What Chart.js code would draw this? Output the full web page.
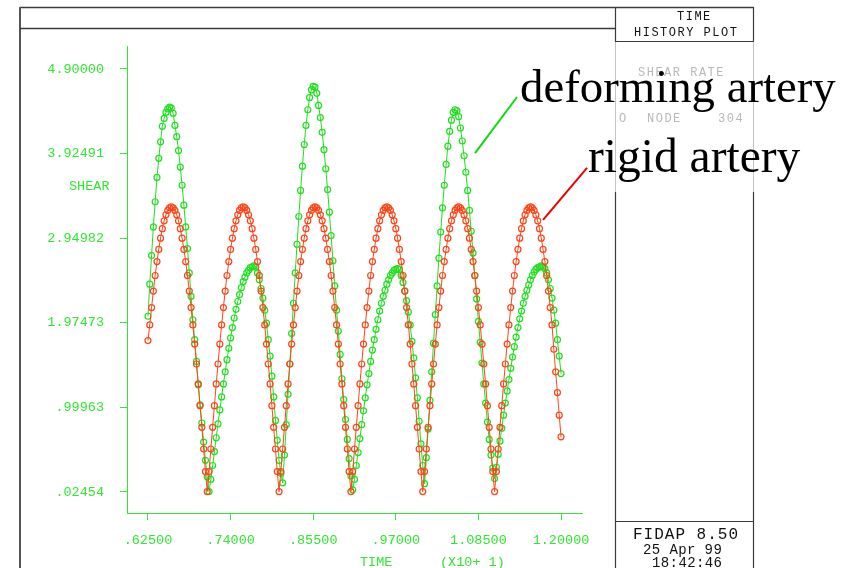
<!DOCTYPE html>
<html>
<head>
<meta charset="utf-8">
<script src="https://cdn.jsdelivr.net/npm/chart.js@4.4.1/dist/chart.umd.min.js"></script>
<style>
  html, body { margin: 0; padding: 0; background: #fff; }
  #wrap { position: relative; width: 855px; height: 568px; overflow: hidden; background: #fff; }
  #wrap canvas { position: absolute; left: 0; top: 0; }
  .mono { position: absolute; white-space: nowrap; font-family: "Liberation Mono", "DejaVu Sans Mono", monospace; line-height: 1; }
  .note { position: absolute; white-space: nowrap; font-family: "Liberation Serif", "DejaVu Serif", serif; line-height: 1; color: #000; }
</style>
</head>
<body>
<div id="wrap">
  <canvas id="chart" width="855" height="568"></canvas>

  <!-- axis captions -->
  <div class="mono" style="left:69px; top:180px; font-size:13.5px; color:#2fe82f;">SHEAR</div>
  <div class="mono" style="left:360px; top:556px; font-size:13.5px; color:#2fe82f;">TIME</div>
  <div class="mono" style="left:440px; top:556px; font-size:13.5px; color:#2fe82f;">(X10+ 1)</div>

  <!-- right panel -->
  <div class="mono" style="left:677px; top:11px; font-size:12px; letter-spacing:1.5px; color:#111;">TIME</div>
  <div class="mono" style="left:634px; top:27px; font-size:12px; letter-spacing:1.5px; color:#111;">HISTORY PLOT</div>
  <div class="mono" style="left:638px; top:67px; font-size:12px; letter-spacing:1.5px; color:#b8b8b8;">SHEAR RATE</div>
  <div class="mono" style="left:619px; top:113px; font-size:12px; color:#b8b8b8;">O</div>
  <div class="mono" style="left:647px; top:113px; font-size:12px; letter-spacing:1.5px; color:#b8b8b8;">NODE</div>
  <div class="mono" style="left:718px; top:113px; font-size:12px; letter-spacing:1.5px; color:#b8b8b8;">304</div>
  <div class="mono" style="left:633px; top:527px; font-size:16px; letter-spacing:1px; color:#111;">FIDAP 8.50</div>
  <div class="mono" style="left:643px; top:543px; font-size:14px; letter-spacing:0.4px; color:#111;">25 Apr 99</div>
  <div class="mono" style="left:652px; top:556px; font-size:14px; letter-spacing:0.4px; color:#111;">18:42:46</div>

  <!-- pasted annotations -->
  <div class="note" style="left:520px; top:63px; font-size:46.8px;">deforming artery</div>
  <div class="note" style="left:588px; top:133px; font-size:47.5px;">rigid artery</div>
</div>

<script>
// sampling of the time history (FIDAP output every 0.0025)
const timeStart = 0.625;
const timeStep = 0.0025;

// shear rate, rigid artery (red)
const rigidShear = [
  1.77, 1.95, 2.15, 2.34, 2.52, 2.68, 2.82, 2.95, 3.06, 3.15, 3.22, 3.27, 3.30, 3.31,
  3.30, 3.27, 3.22, 3.15, 3.06, 2.95, 2.82, 2.68, 2.52, 2.34, 2.15, 1.95, 1.73, 1.50, 1.27, 1.02, 0.77, 0.52, 0.26, 0.03,
  0.26, 0.52, 0.77, 1.02, 1.27, 1.50, 1.73, 1.95, 2.15, 2.34, 2.52, 2.68, 2.82, 2.95, 3.06, 3.15, 3.22, 3.27, 3.30, 3.31,
  3.30, 3.27, 3.22, 3.15, 3.06, 2.95, 2.82, 2.68, 2.52, 2.34, 2.15, 1.95, 1.73, 1.50, 1.27, 1.02, 0.77, 0.52, 0.26, 0.03,
  0.26, 0.52, 0.77, 1.02, 1.27, 1.50, 1.73, 1.95, 2.15, 2.34, 2.52, 2.68, 2.82, 2.95, 3.06, 3.15, 3.22, 3.27, 3.30, 3.31,
  3.30, 3.27, 3.22, 3.15, 3.06, 2.95, 2.82, 2.68, 2.52, 2.34, 2.15, 1.95, 1.73, 1.50, 1.27, 1.02, 0.77, 0.52, 0.26, 0.03,
  0.26, 0.52, 0.77, 1.02, 1.27, 1.50, 1.73, 1.95, 2.15, 2.34, 2.52, 2.68, 2.82, 2.95, 3.06, 3.15, 3.22, 3.27, 3.30, 3.31,
  3.30, 3.27, 3.22, 3.15, 3.06, 2.95, 2.82, 2.68, 2.52, 2.34, 2.15, 1.95, 1.73, 1.50, 1.27, 1.02, 0.77, 0.52, 0.26, 0.03,
  0.26, 0.52, 0.77, 1.02, 1.27, 1.50, 1.73, 1.95, 2.15, 2.34, 2.52, 2.68, 2.82, 2.95, 3.06, 3.15, 3.22, 3.27, 3.30, 3.31,
  3.30, 3.27, 3.22, 3.15, 3.06, 2.95, 2.82, 2.68, 2.52, 2.34, 2.15, 1.95, 1.73, 1.50, 1.27, 1.02, 0.77, 0.52, 0.26, 0.03,
  0.26, 0.52, 0.77, 1.02, 1.27, 1.50, 1.73, 1.95, 2.15, 2.34, 2.52, 2.68, 2.82, 2.95, 3.06, 3.15, 3.22, 3.27, 3.30, 3.31,
  3.30, 3.27, 3.22, 3.15, 3.06, 2.95, 2.82, 2.68, 2.52, 2.34, 2.15, 1.95, 1.67, 1.41, 1.17, 0.91, 0.66
];

// shear rate, deforming artery (green)
const deformingShear = [
  2.05, 2.42, 2.75, 3.08, 3.37, 3.65, 3.87, 4.06, 4.24, 4.33, 4.40, 4.44, 4.46,
  4.45, 4.39, 4.25, 4.12, 3.96, 3.77, 3.56, 3.33, 3.08, 2.83, 2.55, 2.28, 2.01, 1.78, 1.53, 1.26, 1.03, 0.82, 0.60, 0.39, 0.20, 0.03,
  0.17, 0.33, 0.49, 0.65, 0.81, 0.97, 1.12, 1.27, 1.41, 1.55, 1.68, 1.80, 1.92, 2.03, 2.13, 2.22, 2.30, 2.38, 2.45, 2.50, 2.55, 2.58, 2.61, 2.62, 2.63,
  2.62, 2.55, 2.47, 2.37, 2.26, 2.12, 1.97, 1.78, 1.59, 1.36, 1.12, 0.85, 0.62, 0.39, 0.24, 0.13,
  0.45, 0.80, 1.15, 1.50, 1.85, 2.20, 2.55, 2.88, 3.20, 3.50, 3.78, 4.03, 4.25, 4.43, 4.57, 4.66, 4.70,
  4.69, 4.62, 4.48, 4.34, 4.17, 3.97, 3.75, 3.51, 3.25, 2.98, 2.69, 2.40, 2.12, 1.88, 1.61, 1.33, 1.09, 0.86, 0.63, 0.41, 0.21, 0.05,
  0.17, 0.33, 0.48, 0.64, 0.80, 0.96, 1.11, 1.26, 1.39, 1.53, 1.66, 1.78, 1.90, 2.01, 2.11, 2.20, 2.28, 2.35, 2.42, 2.47, 2.52, 2.55, 2.58, 2.59, 2.60,
  2.59, 2.52, 2.44, 2.34, 2.23, 2.10, 1.95, 1.76, 1.57, 1.34, 1.11, 0.84, 0.58, 0.33, 0.12,
  0.42, 0.75, 1.08, 1.41, 1.74, 2.07, 2.40, 2.72, 3.02, 3.30, 3.56, 3.80, 4.01, 4.18, 4.31, 4.40, 4.43,
  4.42, 4.35, 4.22, 4.07, 3.90, 3.71, 3.50, 3.27, 3.03, 2.78, 2.52, 2.25, 1.99, 1.75, 1.51, 1.27, 1.05, 0.83, 0.63, 0.45, 0.30, 0.18,
  0.31, 0.46, 0.61, 0.76, 0.91, 1.05, 1.19, 1.32, 1.45, 1.58, 1.70, 1.81, 1.92, 2.02, 2.11, 2.20, 2.28, 2.35, 2.41, 2.47, 2.52, 2.56, 2.59, 2.61, 2.62, 2.63,
  2.62, 2.60, 2.55, 2.47, 2.37, 2.26, 2.12, 1.97, 1.78, 1.59, 1.39
];

// axis ticks as printed by FIDAP
const xTickValues = [0.625, 0.74, 0.855, 0.97, 1.085, 1.2];
const xTickLabels = ['.62500', '.74000', '.85500', '.97000', '1.08500', '1.20000'];
const yTickValues = [0.02454, 0.99963, 1.97473, 2.94982, 3.92491, 4.9];
const yTickLabels = ['.02454', '.99963', '1.97473', '2.94982', '3.92491', '4.90000'];

const axisGreen = '#2fe82f';
const curveGreen = '#1fe01f';
const curveRed = '#ff4418';

function toPoints(values) {
  return values.map((v, i) => ({ x: timeStart + i * timeStep, y: v }));
}

// frame of the FIDAP plot page
const framePlugin = {
  id: 'frame',
  beforeDraw(chart) {
    const ctx = chart.ctx;
    ctx.save();
    ctx.fillStyle = '#fff';
    ctx.fillRect(0, 0, chart.width, chart.height);
    function seg(x1, y1, x2, y2, color, w) {
      ctx.strokeStyle = color;
      ctx.lineWidth = w;
      ctx.beginPath();
      ctx.moveTo(x1, y1);
      ctx.lineTo(x2, y2);
      ctx.stroke();
    }
    const dark = '#3a3a3a', faded = '#c4c4c4';
    seg(20, 7.5, 753.5, 7.5, dark, 1.5);
    seg(20, 7, 20, 568, '#555', 2);
    seg(20, 28.5, 615, 28.5, dark, 1.5);
    seg(615.5, 7, 615.5, 41, dark, 1.2);
    seg(615.5, 41, 615.5, 192, faded, 1);
    seg(615.5, 192, 615.5, 568, dark, 1.2);
    seg(753.5, 7, 753.5, 41, dark, 1.2);
    seg(753.5, 41, 753.5, 192, faded, 1);
    seg(753.5, 192, 753.5, 568, dark, 1.2);
    seg(615, 41.5, 754, 41.5, dark, 1.2);
    seg(615, 521.5, 754, 521.5, dark, 1.2);
    ctx.restore();
  },
  afterDatasetsDraw(chart) {
    // pointer strokes from the pasted labels to the curves
    const ctx = chart.ctx;
    const xs = chart.scales.x, ys = chart.scales.y;
    ctx.save();
    ctx.lineWidth = 2;
    ctx.strokeStyle = '#10d810';
    ctx.beginPath();
    ctx.moveTo(xs.getPixelForValue(1.0803), ys.getPixelForValue(3.93));
    ctx.lineTo(xs.getPixelForValue(1.1388), ys.getPixelForValue(4.577));
    ctx.stroke();
    ctx.strokeStyle = '#ee0000';
    ctx.beginPath();
    ctx.moveTo(xs.getPixelForValue(1.175), ys.getPixelForValue(3.16));
    ctx.lineTo(xs.getPixelForValue(1.2362), ys.getPixelForValue(3.76));
    ctx.stroke();
    ctx.restore();
  }
};

const ctx = document.getElementById('chart').getContext('2d');
const chart = new Chart(ctx, {
  type: 'line',
  data: {
    datasets: [
      {
        label: 'rigid artery',
        data: toPoints(rigidShear),
        borderColor: curveRed,
        borderWidth: 1,
        pointRadius: 3,
        pointBorderWidth: 1.2,
        pointBorderColor: curveRed,
        pointBackgroundColor: 'rgba(0,0,0,0)',
        tension: 0
      },
      {
        label: 'deforming artery',
        data: toPoints(deformingShear),
        borderColor: curveGreen,
        borderWidth: 1,
        pointRadius: 3,
        pointBorderWidth: 1.2,
        pointBorderColor: curveGreen,
        pointBackgroundColor: 'rgba(0,0,0,0)',
        tension: 0
      }
    ]
  },
  options: {
    responsive: false,
    devicePixelRatio: 1,
    animation: false,
    events: [],
    layout: { padding: { left: 0, top: 46, right: 273, bottom: 0 } },
    plugins: {
      legend: { display: false },
      tooltip: { enabled: false }
    },
    scales: {
      x: {
        type: 'linear',
        min: 0.5958,
        max: 1.2292,
        afterFit: (scale) => { scale.height = 55; },
        afterBuildTicks: (scale) => { scale.ticks = xTickValues.map(v => ({ value: v })); },
        grid: { display: true, drawOnChartArea: false, drawTicks: true, tickLength: 7, color: axisGreen, lineWidth: 1 },
        border: { display: true, color: axisGreen, width: 1 },
        ticks: {
          autoSkip: false,
          maxRotation: 0,
          padding: 12,
          color: axisGreen,
          font: { family: '"Liberation Mono", monospace', size: 13.5 },
          callback: (value, index) => xTickLabels[index]
        }
      },
      y: {
        type: 'linear',
        min: -0.2175,
        max: 5.165,
        afterFit: (scale) => { scale.width = 127; },
        afterBuildTicks: (scale) => { scale.ticks = yTickValues.map(v => ({ value: v })); },
        grid: { display: true, drawOnChartArea: false, drawTicks: true, tickLength: 7, color: axisGreen, lineWidth: 1 },
        border: { display: true, color: axisGreen, width: 1 },
        ticks: {
          autoSkip: false,
          padding: 16,
          color: axisGreen,
          font: { family: '"Liberation Mono", monospace', size: 13.5 },
          callback: (value, index) => yTickLabels[index]
        }
      }
    }
  },
  plugins: [framePlugin]
});
</script>
</body>
</html>
